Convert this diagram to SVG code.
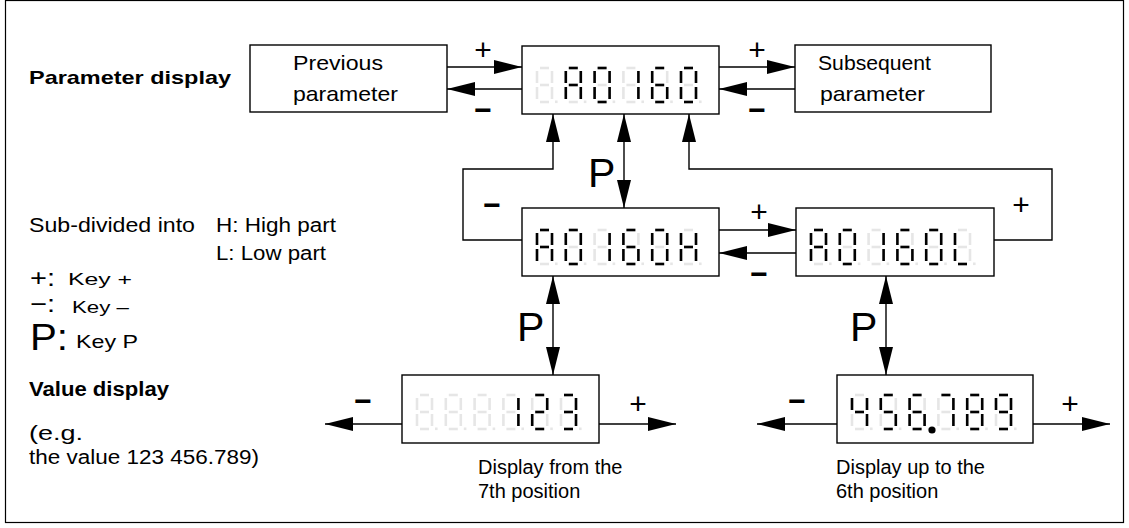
<svg xmlns="http://www.w3.org/2000/svg" xmlns:xlink="http://www.w3.org/1999/xlink" width="1129" height="528" viewBox="0 0 1129 528">
<style>
text{font-family:"Liberation Sans",Arial,Helvetica,sans-serif;fill:#000}
.b{font-weight:bold}
.sg{font-size:30px;text-anchor:middle}
.box{fill:#fff;stroke:#000;stroke-width:1.4}
.ln{fill:none;stroke:#000;stroke-width:1.4}
.off{stroke:#e6e6e6;fill:#e6e6e6;stroke-width:2.6}
.on{stroke:#000;stroke-width:2.6}
</style>
<defs>
<marker id="ah" viewBox="0 0 28 14" refX="28" refY="7" markerWidth="28" markerHeight="14" orient="auto-start-reverse" markerUnits="userSpaceOnUse"><path d="M0,0 L28,7 L0,14 z" fill="#000"/></marker>
<line id="sa" x1="3" y1="0" x2="12" y2="0"/>
<line id="sb" x1="15" y1="3" x2="15" y2="15"/>
<line id="sc" x1="15" y1="19" x2="15" y2="31"/>
<line id="sd" x1="3" y1="34" x2="12" y2="34"/>
<line id="se" x1="0" y1="19" x2="0" y2="31"/>
<line id="sf" x1="0" y1="3" x2="0" y2="15"/>
<line id="sg" x1="3" y1="17" x2="12" y2="17"/>
<g id="d8" class="off"><use href="#sa"/><use href="#sb"/><use href="#sc"/><use href="#sd"/><use href="#se"/><use href="#sf"/><use href="#sg"/><rect x="18" y="32.5" width="2.6" height="2.6" stroke="none"/></g>
<g id="dA" class="on"><use href="#sa"/><use href="#sb"/><use href="#sc"/><use href="#se"/><use href="#sf"/><use href="#sg"/></g>
<g id="d0" class="on"><use href="#sa"/><use href="#sb"/><use href="#sc"/><use href="#sd"/><use href="#se"/><use href="#sf"/></g>
<g id="d1" class="on"><use href="#sb"/><use href="#sc"/></g>
<g id="d2" class="on"><use href="#sa"/><use href="#sb"/><use href="#sg"/><use href="#se"/><use href="#sd"/></g>
<g id="d3" class="on"><use href="#sa"/><use href="#sb"/><use href="#sg"/><use href="#sc"/><use href="#sd"/></g>
<g id="d4" class="on"><use href="#sf"/><use href="#sg"/><use href="#sb"/><use href="#sc"/></g>
<g id="d5" class="on"><use href="#sa"/><use href="#sf"/><use href="#sg"/><use href="#sc"/><use href="#sd"/></g>
<g id="d6" class="on"><use href="#sa"/><use href="#sf"/><use href="#sg"/><use href="#se"/><use href="#sc"/><use href="#sd"/></g>
<g id="d7" class="on"><use href="#sa"/><use href="#sb"/><use href="#sc"/></g>
<g id="d8on" class="on"><use href="#sa"/><use href="#sb"/><use href="#sc"/><use href="#sd"/><use href="#se"/><use href="#sf"/><use href="#sg"/></g>
<g id="d9" class="on"><use href="#sa"/><use href="#sb"/><use href="#sc"/><use href="#sd"/><use href="#sf"/><use href="#sg"/></g>
<g id="dH" class="on"><use href="#sb"/><use href="#sc"/><use href="#se"/><use href="#sf"/><use href="#sg"/></g>
<g id="dL" class="on"><use href="#sd"/><use href="#se"/><use href="#sf"/></g>
</defs>
<rect x="5.5" y="0.5" width="1118" height="522" fill="#fff" stroke="#000" stroke-width="1.2"/>

<g id="legend">
<text class="b" x="29" y="83.5" font-size="19" textLength="202" lengthAdjust="spacingAndGlyphs">Parameter display</text>
<text x="29" y="232" font-size="20" textLength="166" lengthAdjust="spacingAndGlyphs">Sub-divided into</text>
<text x="216" y="232" font-size="20" textLength="120" lengthAdjust="spacingAndGlyphs">H: High part</text>
<text x="216" y="260" font-size="20" textLength="110" lengthAdjust="spacingAndGlyphs">L: Low part</text>
<text x="30" y="286" font-size="24" textLength="25" lengthAdjust="spacingAndGlyphs">+:</text>
<text x="68" y="285" font-size="17" textLength="64" lengthAdjust="spacingAndGlyphs">Key +</text>
<text x="30" y="312" font-size="24" textLength="25" lengthAdjust="spacingAndGlyphs">−:</text>
<text x="72" y="313" font-size="17" textLength="57" lengthAdjust="spacingAndGlyphs">Key –</text>
<text x="30" y="350" font-size="36" textLength="38" lengthAdjust="spacingAndGlyphs">P:</text>
<text x="76" y="348" font-size="19" textLength="62" lengthAdjust="spacingAndGlyphs">Key P</text>
<text class="b" x="29" y="396" font-size="20" textLength="140" lengthAdjust="spacingAndGlyphs">Value display</text>
<text x="29" y="440" font-size="20" textLength="54" lengthAdjust="spacingAndGlyphs">(e.g.</text>
<text x="29" y="464" font-size="20" textLength="230" lengthAdjust="spacingAndGlyphs">the value 123 456.789)</text>
</g>

<g id="prev">
<rect class="box" x="250" y="45" width="197" height="67"/>
<text x="293" y="69.5" font-size="21" textLength="90" lengthAdjust="spacingAndGlyphs">Previous</text>
<text x="293" y="100.5" font-size="21" textLength="105" lengthAdjust="spacingAndGlyphs">parameter</text>
</g>
<g id="next">
<rect class="box" x="795" y="45" width="196" height="67"/>
<text x="818" y="69.5" font-size="21" textLength="113" lengthAdjust="spacingAndGlyphs">Subsequent</text>
<text x="820" y="100.5" font-size="21" textLength="105" lengthAdjust="spacingAndGlyphs">parameter</text>
</g>

<g id="disp-top">
<rect class="box" x="522" y="46" width="197" height="68"/>
<use href="#d8" x="537" y="68"/><use href="#d8" x="565.8" y="68"/><use href="#d8" x="594.6" y="68"/><use href="#d8" x="623.4" y="68"/><use href="#d8" x="652.2" y="68"/><use href="#d8" x="681" y="68"/>
<use href="#dA" x="565.8" y="68"/><use href="#d0" x="594.6" y="68"/><use href="#d1" x="623.4" y="68"/><use href="#d6" x="652.2" y="68"/><use href="#d0" x="681" y="68"/>
</g>
<g id="disp-high">
<rect class="box" x="522" y="208" width="197" height="68"/>
<use href="#d8" x="537" y="230"/><use href="#d8" x="565.8" y="230"/><use href="#d8" x="594.6" y="230"/><use href="#d8" x="623.4" y="230"/><use href="#d8" x="652.2" y="230"/><use href="#d8" x="681" y="230"/>
<use href="#dA" x="537" y="230"/><use href="#d0" x="565.8" y="230"/><use href="#d1" x="594.6" y="230"/><use href="#d6" x="623.4" y="230"/><use href="#d0" x="652.2" y="230"/><use href="#dH" x="681" y="230"/>
</g>
<g id="disp-low">
<rect class="box" x="796" y="208" width="198" height="68"/>
<use href="#d8" x="811" y="230"/><use href="#d8" x="839.8" y="230"/><use href="#d8" x="868.6" y="230"/><use href="#d8" x="897.4" y="230"/><use href="#d8" x="926.2" y="230"/><use href="#d8" x="955" y="230"/>
<use href="#dA" x="811" y="230"/><use href="#d0" x="839.8" y="230"/><use href="#d1" x="868.6" y="230"/><use href="#d6" x="897.4" y="230"/><use href="#d0" x="926.2" y="230"/><use href="#dL" x="955" y="230"/>
</g>
<g id="disp-val7">
<rect class="box" x="402" y="375" width="197" height="68"/>
<use href="#d8" x="417" y="395"/><use href="#d8" x="445.8" y="395"/><use href="#d8" x="474.6" y="395"/><use href="#d8" x="503.4" y="395"/><use href="#d8" x="532.2" y="395"/><use href="#d8" x="561" y="395"/>
<use href="#d1" x="503.4" y="395"/><use href="#d2" x="532.2" y="395"/><use href="#d3" x="561" y="395"/>
<text x="478" y="474" font-size="20">Display from the</text>
<text x="478" y="498" font-size="20">7th position</text>
</g>
<g id="disp-val6">
<rect class="box" x="837" y="375" width="196" height="68"/>
<use href="#d8" x="852" y="395"/><use href="#d8" x="880.8" y="395"/><use href="#d8" x="909.6" y="395"/><use href="#d8" x="938.4" y="395"/><use href="#d8" x="967.2" y="395"/><use href="#d8" x="996" y="395"/>
<use href="#d4" x="852" y="395"/><use href="#d5" x="880.8" y="395"/><use href="#d6" x="909.6" y="395"/><use href="#d7" x="938.4" y="395"/><use href="#d8on" x="967.2" y="395"/><use href="#d9" x="996" y="395"/>
<circle cx="932" cy="430" r="3.6" fill="#000"/>
<text x="836" y="474" font-size="20">Display up to the</text>
<text x="836" y="498" font-size="20">6th position</text>
</g>

<g id="connectors">
<line class="ln" x1="447" y1="67" x2="522" y2="67" marker-end="url(#ah)"/>
<line class="ln" x1="522" y1="89" x2="447" y2="89" marker-end="url(#ah)"/>
<line class="ln" x1="719" y1="67" x2="795" y2="67" marker-end="url(#ah)"/>
<line class="ln" x1="795" y1="89" x2="719" y2="89" marker-end="url(#ah)"/>
<line class="ln" x1="719" y1="230" x2="796" y2="230" marker-end="url(#ah)"/>
<line class="ln" x1="796" y1="253" x2="719" y2="253" marker-end="url(#ah)"/>
<polyline class="ln" points="522,240 463,240 463,169 553,169 553,114" marker-end="url(#ah)"/>
<polyline class="ln" points="994,240 1052,240 1052,169 689,169 689,114" marker-end="url(#ah)"/>
<line class="ln" x1="624" y1="114" x2="624" y2="208" marker-start="url(#ah)" marker-end="url(#ah)"/>
<line class="ln" x1="553" y1="276" x2="553" y2="375" marker-start="url(#ah)" marker-end="url(#ah)"/>
<line class="ln" x1="886" y1="276" x2="886" y2="375" marker-start="url(#ah)" marker-end="url(#ah)"/>
<line class="ln" x1="402" y1="424" x2="325" y2="424" marker-end="url(#ah)"/>
<line class="ln" x1="599" y1="424" x2="676" y2="424" marker-end="url(#ah)"/>
<line class="ln" x1="837" y1="424" x2="757" y2="424" marker-end="url(#ah)"/>
<line class="ln" x1="1033" y1="424" x2="1110" y2="424" marker-end="url(#ah)"/>
</g>

<g id="labels">
<text class="sg" x="483" y="60">+</text>
<text class="sg b" x="483" y="120">−</text>
<text class="sg" x="757" y="60">+</text>
<text class="sg b" x="757" y="120">−</text>
<text class="sg" x="759" y="222">+</text>
<text class="sg b" x="759" y="284">−</text>
<text class="sg b" x="492" y="215">−</text>
<text class="sg" x="1021" y="215">+</text>
<text class="sg b" x="363" y="411">−</text>
<text class="sg" x="638" y="414">+</text>
<text class="sg b" x="797" y="411">−</text>
<text class="sg" x="1070" y="414">+</text>
<text x="588" y="187" font-size="41">P</text>
<text x="517" y="341" font-size="41">P</text>
<text x="850" y="341" font-size="41">P</text>
</g>
</svg>
